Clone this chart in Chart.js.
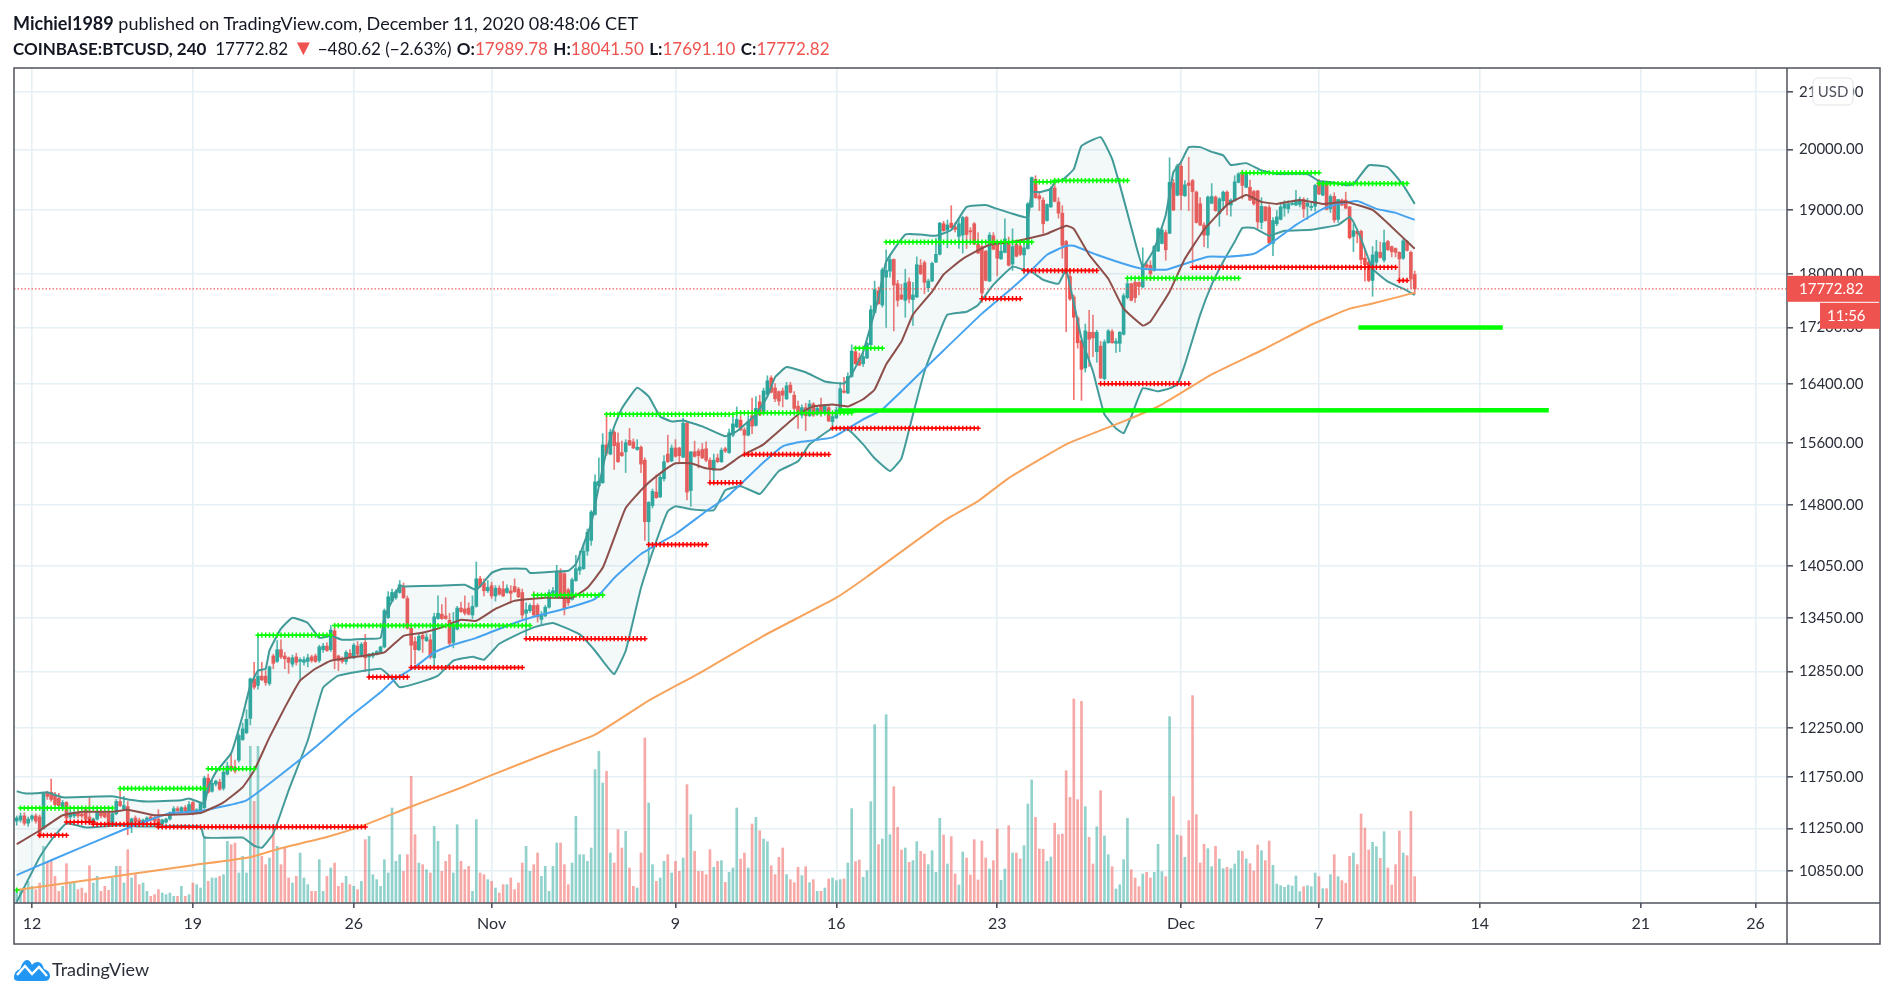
<!DOCTYPE html>
<html>
<head>
<meta charset="utf-8">
<title>COINBASE:BTCUSD, 240</title>
<script src="https://cdn.jsdelivr.net/npm/chart.js@4"></script>
<style>
    html, body { margin: 0; padding: 0; background: #fff; }
    body { width: 1898px; height: 1000px; position: relative; overflow: hidden; font-family: "Lato", sans-serif; color: #131722; }
    #priceChart { position: absolute; left: 0; top: 0; }
    .line { position: absolute; left: 13px; font-size: 17px; white-space: nowrap; }
    .line b { font-weight: 700; }
    .vals b { margin-left: 1px; }
    .vals i { font-style: normal; }
    .red { color: #ef5350; }
    .tri { font-size: 22px; line-height: 17px; letter-spacing: -1px; }
    #logo { position: absolute; left: 14px; top: 957px; }
    #brand { position: absolute; left: 52px; top: 958px; font-size: 18px; color: #2a2e39; }
</style>
</head>
<body>
<canvas id="priceChart" width="1898" height="1000"></canvas>
<div class="line" style="font-size:18px;top:12px"><b>Michiel1989</b> published on TradingView.com, December 11, 2020 08:48:06 CET</div>
<div class="line vals" style="top:38px"><b style="margin-left:0">COINBASE:BTCUSD, 240</b>&nbsp; <i>17772.82</i> <span class="red tri">&#9660;</span> <i>&minus;480.62 (&minus;2.63%)</i> <b>O:</b><span class="red">17989.78</span> <b>H:</b><span class="red">18041.50</span> <b>L:</b><span class="red">17691.10</span> <b>C:</b><span class="red">17772.82</span></div>
<svg id="logo" width="36" height="24" viewBox="0 0 36 24"><path d="M0 21 Q0 14 6 12 Q9 3 13 3 Q16 3 18 8 Q20 5 24 5 Q28 5 30 12 Q36 14 36 19 Q36 24 30 24 L5 24 Q0 24 0 21 Z" fill="#2196f3"/><path d="M3 18 L11 9 L18 17 L25 10 L33 19" fill="none" stroke="#fff" stroke-width="2.4"/></svg>
<div id="brand">TradingView</div>
<script>
// 4h candles [open, high, low, close], first one sits at bar -4 (bar 0 = Oct 12 00:00)
const firstBar = -4;
const candles = [
    [11320,11370,11280,11350],[11330,11400,11310,11370],[11370,11400,11280,11300],[11300,11360,11270,11340],
    // Oct 12
    [11340,11380,11320,11370],[11370,11390,11300,11320],[11360,11380,11160,11170],[11250,11600,11240,11590],[11590,11610,11530,11560],[11600,11730,11510,11530],
    [11570,11600,11470,11480],[11540,11590,11460,11470],[11440,11520,11430,11500],[11500,11510,11330,11350],[11360,11420,11340,11400],[11370,11420,11350,11400],
    [11400,11420,11350,11370],[11390,11410,11350,11370],[11430,11450,11320,11340],[11360,11550,11290,11300],[11300,11350,11280,11340],[11340,11430,11330,11410],
    [11410,11430,11350,11370],[11400,11420,11350,11360],[11400,11420,11270,11290],[11300,11410,11280,11390],[11390,11530,11380,11510],[11510,11620,11460,11470],
    [11440,11560,11430,11470],[11460,11510,11190,11300],[11290,11350,11210,11340],[11350,11370,11300,11310],[11330,11350,11280,11290],[11290,11340,11280,11330],
    [11320,11360,11310,11350],[11360,11380,11320,11330],[11350,11370,11290,11320],[11340,11430,11250,11260],[11290,11340,11280,11330],[11310,11350,11300,11340],
    [11340,11410,11330,11400],[11400,11460,11390,11440],[11440,11460,11410,11420],[11410,11460,11400,11450],[11450,11470,11410,11420],[11420,11510,11410,11480],
    // Oct 19
    [11500,11510,11380,11390],[11400,11440,11390,11430],[11420,11500,11400,11490],[11450,11760,11440,11740],[11740,11780,11590,11600],[11610,11720,11600,11690],
    [11680,11720,11660,11710],[11700,11730,11620,11630],[11640,11830,11620,11800],[11780,11900,11770,11860],[11860,11980,11810,11830],[11850,11920,11790,11810],
    [11920,12190,11900,12170],[12130,12300,12120,12240],[12200,12440,12190,12340],[12350,12780,12280,12770],[12770,12950,12660,12680],[12700,13240,12660,12800],
    [12800,12950,12750,12760],[12800,12860,12700,12730],[12720,12910,12700,12900],[13020,13040,12880,12940],[12960,13190,12950,13090],[13090,13200,12990,13010],
    [13020,13060,12880,12990],[13000,13010,12830,12950],[12930,13030,12900,13000],[13010,13050,12920,12950],[12960,13000,12760,12980],[12950,13010,12920,12980],
    [12960,13040,12900,13000],[13010,13030,12950,12970],[13020,13040,12950,12960],[12970,13140,12950,13120],[13090,13160,13060,13130],[13130,13170,13070,13080],
    // Oct 26
    [13090,13360,13070,13310],[13300,13340,12880,12990],[13020,13030,12860,12970],[12990,13010,12940,12960],[12960,13080,12930,13060],[13050,13090,13000,13010],
    [13000,13160,12990,13140],[13130,13180,13020,13040],[13020,13170,13010,13150],[13170,13260,12850,13000],[13010,13050,12770,13040],[13020,13060,13000,13050],
    [13040,13080,13030,13070],[13060,13130,13050,13120],[13120,13550,13110,13530],[13450,13750,13440,13690],[13640,13780,13630,13740],[13680,13770,13660,13750],
    [13740,13880,13730,13830],[13800,13850,13670,13680],[13670,13700,13320,13330],[13330,13350,12900,13140],[13180,13230,12930,13090],[13090,13270,13080,13240],
    [13250,13290,13060,13210],[13190,13270,13180,13230],[13200,13260,12990,13010],[13000,13500,12900,13460],[13440,13700,13430,13500],[13490,13600,13430,13440],
    [13470,13680,13430,13440],[13420,13500,13130,13160],[13170,13510,13110,13370],[13320,13580,13310,13560],[13560,13630,13510,13520],[13550,13700,13480,13500],
    // Nov 1
    [13560,13620,13480,13490],[13480,13700,13440,13580],[13580,14100,13570,13900],[13900,13930,13800,13810],[13850,13900,13700,13760],[13760,13880,13740,13800],
    [13820,13860,13670,13700],[13700,13820,13640,13790],[13790,13820,13710,13720],[13780,13870,13690,13700],[13740,13830,13730,13790],[13760,13820,13620,13730],
    [13810,13900,13740,13750],[13780,13800,13680,13690],[13740,13780,13440,13480],[13500,13620,13250,13540],[13530,13610,13510,13590],[13590,13750,13470,13480],
    [13590,13610,13400,13460],[13430,13520,13380,13480],[13470,13590,13460,13570],[13570,13770,13560,13740],[13730,13800,13720,13760],[13690,14060,13680,13990],
    [13990,14020,13670,13680],[13960,13990,13480,13560],[13770,13790,13590,13620],[13660,13910,13650,13890],[13880,14180,13870,14020],[14000,14230,13950,14040],
    [14020,14320,14010,14230],[14230,14500,14180,14460],[14360,14730,14300,14710],[14680,15180,14670,15090],[15040,15400,15030,15100],[15080,15720,15070,15570],
    // Nov 7
    [15570,16000,15430,15460],[15450,15780,15440,15740],[15740,15760,15250,15560],[15600,15730,15340,15350],[15470,15620,15420,15430],[15480,15640,15210,15600],
    [15630,15790,15560,15570],[15610,15650,15520,15530],[15510,15640,15500,15540],[15540,15560,15210,15320],[15370,15400,14360,14590],[14590,14840,14100,14830],
    [14790,15000,14760,14970],[14960,15180,14880,14890],[14900,15180,14890,15150],[15130,15430,15100,15350],[15450,15700,15340,15350],[15360,15570,15350,15530],
    [15530,15640,15410,15420],[15530,15540,15350,15430],[15410,15930,15400,15860],[15860,15880,14860,14960],[14980,15480,14780,15480],[15480,15620,15410,15420],
    [15490,15520,15270,15430],[15510,15590,15390,15400],[15520,15610,15350,15370],[15370,15400,15070,15260],[15240,15450,15120,15370],[15400,15450,15340,15350],
    [15350,15530,15340,15500],[15520,15540,15470,15490],[15470,15780,15460,15730],[15700,15940,15680,15850],[15810,16080,15800,15910],[15900,15960,15760,15770],
    [15770,15800,15480,15700],[15700,15960,15690,15880],[15960,16200,15720,15820],[15830,16220,15820,16060],[16150,16240,15960,15970],[15990,16340,15980,16300],
    [16250,16510,16240,16440],[16480,16510,16270,16280],[16340,16400,16150,16190],[16290,16300,16100,16160],[16300,16340,16080,16240],[16190,16420,16180,16370],
    [16380,16420,16270,16280],[16240,16290,16040,16060],[16090,16160,15790,16000],[15970,16110,15930,16070],[16070,16130,15760,15960],[15960,16170,15950,16120],
    [16120,16140,15950,15970],[15980,16100,15970,16060],[16100,16200,15950,16010],[16000,16110,15990,16090],[16070,16110,15880,15890],[15880,15980,15800,15950],
    // Nov 16
    [15930,16080,15920,16040],[16010,16420,16000,16330],[16300,16490,16270,16280],[16270,16550,16260,16500],[16500,16950,16490,16860],[16850,16920,16670,16680],
    [16760,16830,16650,16660],[16680,16850,16640,16780],[16760,16990,16750,16970],[16950,17520,16940,17460],[17420,17890,17410,17760],[17740,17800,17540,17550],
    [17530,18090,17500,18060],[17950,18370,17200,18050],[18040,18300,17950,18220],[18220,18230,17150,17830],[17850,17900,17510,17600],[17680,17840,17610,17620],
    [17600,18070,17350,17860],[17880,17940,17560,17620],[17610,17870,17230,17680],[17650,18260,17640,18140],[18130,18220,17990,18000],[18170,18200,17700,17870],
    [17790,17920,17730,17890],[17890,18180,17880,18160],[18180,18550,18170,18300],[18300,18800,18290,18790],[18780,18820,18660,18670],[18680,18840,18400,18760],
    [18790,19070,18710,18720],[18730,18800,18650,18690],[18580,18860,18390,18780],[18600,18900,18320,18880],[18880,18900,18390,18610],[18670,18720,18520,18650],
    [18780,18800,18450,18460],[18460,18640,18310,18320],[18420,18440,17570,17710],[18350,18360,17890,17900],[17890,18640,17880,18600],[18590,18640,18370,18380],
    [18490,18500,17970,18240],[18230,18440,18220,18350],[18330,18860,18320,18540],[18490,18570,18120,18130],[18150,18700,18050,18420],[18460,18480,18260,18270],
    [18430,18460,18280,18300],[18290,18460,18000,18400],[18390,19120,18380,19100],[19050,19540,19040,19530],[19500,19560,19190,19200],[19230,19300,18990,19180],
    [19160,19200,18630,18780],[18830,19100,18820,19090],[19050,19380,19040,19350],[19360,19450,19130,19140],[19130,19200,18870,18950],[18950,19070,18240,18440],
    [18500,18520,17140,18000],[17960,18080,17600,17620],[17650,17680,16180,17350],[17340,17360,16900,16980],[17010,17030,16170,16600],[16620,17250,16560,17150],
    [17130,17450,16640,17030],[17130,17380,16780,17050],[16850,17160,16700,17130],[16930,17000,16470,16480],[16470,17020,16450,16990],[16980,17170,16970,17150],
    [17140,17170,16970,16980],[16970,17040,16840,17000],[16970,17140,16850,17130],[17100,17700,17090,17670],[17640,17900,17620,17850],[17850,17860,17590,17600],
    [17870,17900,17570,17640],[17870,17880,17680,17810],[17800,18400,17790,18150],[18140,18180,18090,18100],[18130,18200,17900,18000],[18050,18440,18040,18420],
    [18350,18720,18340,18700],[18470,18730,18460,18680],[18640,18680,18210,18370],[18630,19860,18620,19450],[19440,19500,18990,19000],[19240,19750,19230,19720],
    // Dec 1
    [19720,19800,19000,19240],[19230,19480,19220,19410],[19440,19870,18990,19400],[19480,19500,18150,19300],[19290,19310,18790,18800],[19100,19200,18750,18760],
    [18760,18800,18420,18600],[18600,19230,18400,19210],[19110,19430,19100,19220],[19210,19230,18980,18990],[18940,19200,18740,19180],[19150,19310,19000,19290],
    [19290,19310,18920,19090],[19080,19180,18900,19160],[19150,19560,19140,19460],[19450,19610,19440,19590],[19600,19650,19180,19400],[19370,19620,19360,19600],
    [19370,19490,19150,19160],[19300,19320,19080,19100],[19310,19320,18700,18810],[18800,19200,18700,19060],[19050,19060,18820,18830],[19040,19080,18450,18480],
    [18470,18880,18280,18830],[18780,18990,18750,18890],[18850,19100,18840,19050],[19030,19150,18900,19100],[19020,19150,18950,19100],[19090,19130,19080,19110],
    // Dec 6
    [19080,19320,19070,19160],[19090,19210,19050,19170],[19170,19200,18880,19020],[19060,19190,18850,19110],[19040,19140,18990,19060],[19060,19420,18980,19400],
    [19470,19500,19250,19260],[19240,19480,19230,19420],[19420,19440,19000,19010],[19020,19250,18960,19220],[19220,19280,18800,18840],[18850,19170,18800,19170],
    [19160,19180,19070,19080],[19160,19290,19020,19030],[19050,19060,18540,18560],[18580,18780,18340,18670],[18660,18680,18480,18620],[18660,18680,18150,18220],
    [18240,18390,17890,18140],[18180,18210,17880,17900],[17900,18420,17660,18290],[18180,18520,18120,18340],[18330,18490,18240,18250],[18210,18680,18180,18480],
    [18500,18520,18360,18370],[18420,18430,18260,18340],[18390,18400,18260,18330],[18330,18340,17860,18230],[18240,18540,18220,18510],[18500,18520,18350,18360],
    [18330,18350,17780,17920],[17989.78,18041.5,17691.1,17772.82]
];

// volume per bar, same order as candles (arbitrary units)
const volumes = [
    35,40,45,65,
    50,40,60,170,125,125,80,35,50,118,60,60,40,45,30,112,60,80,35,50,38,75,110,110,60,160,
    75,85,55,60,35,20,25,40,30,25,30,20,20,50,20,25,60,55,45,200,65,75,75,80,85,185,175,180,90,140,
    90,470,305,470,
    140,115,135,235,170,115,165,75,60,80,150,75,55,35,35,130,35,80,105,120,50,60,80,55,50,40,65,190,200,85,
    70,50,130,90,285,125,145,95,145,380,205,120,115,100,90,230,185,95,125,145,90,235,125,100,110,35,250,90,85,70,
    65,45,30,55,55,75,40,60,120,170,95,115,150,80,110,35,110,180,180,115,55,120,260,145,145,125,165,400,455,360,
    395,150,120,220,165,215,105,50,45,150,495,300,115,65,75,125,145,90,125,95,135,355,265,155,95,95,85,160,
    107,125,127,62,92,105,285,132,150,105,237,257,217,192,184,112,85,137,165,85,70,61,107,82,109,61,70,35,35,45,
    72,75,67,70,72,120,283,124,129,77,97,304,535,175,192,565,205,349,227,159,165,122,127,184,155,147,115,157,92,254,
    204,117,199,87,54,153,135,84,190,69,186,135,102,127,222,68,102,232,150,150,132,172,297,369,257,162,161,125,138,239,
    205,207,397,317,612,310,605,289,197,117,229,337,201,145,109,42,55,130,254,100,75,49,87,92,75,92,176,94,79,559,
    319,204,201,137,247,622,265,120,176,163,109,170,132,103,107,103,117,157,155,132,118,96,174,157,127,186,113,57,52,47,
    54,51,81,34,49,52,49,90,79,43,43,85,145,79,67,59,140,150,115,267,225,159,182,169,134,214,105,54,115,216,150,142,275,79
];

// lines as [bar, price]
const bbUpper = [[-4,11610],[-2,11590],[1,11590],[4,11600],[8,11550],[21,11560],[25,11530],[30,11510],[39,11521],[41,11540],[45,11490],[46,11650],[48,11800],[52,11990],[55,12380],[57,12700],[59,12860],[61,12880],[62,13080],[65,13325],[68,13450],[72,13390],[75,13222],[78,13245],[81,13200],[87,13210],[91,13222],[92,13450],[96,13820],[97,13810],[106,13820],[113,13830],[116,13770],[120,13970],[123,14020],[129,14020],[130,13970],[136,13985],[140,13995],[142,14075],[144,14310],[146,14560],[148,15035],[150,15486],[152,15815],[154,16060],[158,16345],[161,16223],[164,15950],[167,15884],[170,15897],[175,15817],[181,15685],[184,15751],[189,15977],[192,16223],[194,16490],[197,16632],[202,16560],[207,16431],[212,16403],[214,16530],[217,16850],[221,17640],[223,18185],[228,18610],[232,18610],[236,18590],[240,18680],[244,19050],[249,19080],[252,19018],[256,18940],[260,18880],[261,19290],[263,19290],[266,19340],[267,19457],[269,19490],[272,19670],[274,20060],[279,20210],[282,19840],[285,19180],[288,18495],[290,18110],[293,18385],[296,18920],[298,19620],[300,19789],[302,20040],[305,20040],[308,19960],[311,19900],[313,19740],[317,19770],[321,19650],[325,19590],[333,19590],[336,19470],[339,19457],[343,19405],[345,19420],[349,19735],[354,19700],[358,19405],[361,19099]];
const bbLower = [[-4,10570],[-2,10705],[2,10979],[5,11138],[7,11226],[9,11300],[14,11260],[23,11280],[28,11268],[44,11268],[45,11163],[55,11163],[58,11086],[60,11067],[63,11200],[67,11619],[72,12120],[76,12675],[80,12805],[91,12880],[94,12775],[96,12680],[101,12730],[106,12805],[110,12968],[115,13012],[118,12979],[122,13155],[126,13245],[131,13340],[136,13390],[143,13260],[147,13078],[150,12913],[152,12820],[155,13078],[159,13795],[163,14352],[166,14720],[168,14783],[172,14745],[178,14733],[181,14985],[185,15035],[190,14935],[191,14985],[195,15230],[200,15356],[203,15578],[209,15790],[213,15777],[217,15578],[220,15395],[224,15230],[227,15395],[230,15977],[233,16570],[237,17140],[239,17388],[244,17430],[247,17530],[251,17835],[256,18109],[259,18062],[261,18030],[264,17910],[268,17850],[270,18062],[274,17040],[277,16570],[280,15977],[283,15790],[285,15725],[287,15950],[290,16335],[294,16294],[297,16335],[299,16390],[301,16670],[305,17388],[308,17835],[311,18185],[314,18495],[316,18715],[319,18715],[323,18590],[327,18670],[334,18685],[341,18762],[344,18890],[345,18810],[347,18540],[350,18078],[354,17880],[358,17775],[361,17680]];
const ma20 = [[-4,11100],[2,11230],[8,11376],[13,11410],[21,11410],[25,11430],[32,11376],[44,11398],[50,11502],[55,11650],[58,11816],[62,12152],[66,12463],[70,12751],[74,12880],[78,12968],[87,13025],[92,13060],[97,13245],[102,13280],[107,13340],[112,13425],[116,13414],[121,13550],[126,13643],[134,13680],[141,13680],[145,13795],[149,14030],[152,14390],[155,14760],[160,15035],[164,15200],[168,15330],[172,15330],[176,15265],[180,15252],[185,15422],[191,15578],[200,15977],[204,16087],[209,16113],[213,16087],[217,16185],[220,16320],[223,16670],[227,16996],[230,17388],[235,17730],[238,17990],[243,18230],[250,18450],[256,18495],[262,18575],[265,18622],[270,18750],[272,18700],[276,18293],[281,17925],[285,17477],[290,17227],[292,17286],[297,17730],[301,18230],[306,18685],[312,19083],[317,19245],[321,19131],[325,19099],[331,19163],[337,19099],[343,19131],[350,19002],[355,18730],[361,18385]];
const ma50 = [[-4,10813],[5,10951],[19,11163],[26,11268],[36,11396],[44,11418],[56,11521],[71,11957],[76,12120],[84,12400],[91,12625],[95,12775],[100,12900],[105,13060],[110,13145],[116,13222],[126,13390],[131,13460],[141,13575],[147,13665],[152,13910],[159,14195],[168,14438],[176,14720],[181,14883],[185,15061],[191,15343],[196,15552],[200,15605],[209,15670],[217,15911],[222,16046],[235,16711],[248,17403],[256,17790],[260,18000],[265,18293],[270,18433],[272,18433],[278,18293],[285,18155],[290,18078],[296,18062],[301,18155],[307,18263],[312,18263],[319,18309],[324,18495],[330,18762],[337,19018],[341,19099],[346,19147],[351,19018],[356,18954],[361,18842]];
const ma200 = [[-4,10677],[42,10905],[57,10979],[65,11063],[77,11168],[87,11284],[98,11446],[112,11645],[120,11770],[135,11998],[147,12180],[161,12537],[175,12850],[191,13245],[210,13680],[218,13925],[238,14597],[247,14846],[255,15138],[270,15578],[285,15884],[295,16113],[308,16530],[322,16896],[334,17240],[344,17476],[350,17552],[361,17715]];

// pivot levels as [first bar, last bar, price]
const greenLevels = [[-4,-4,10677],[-3,21,11446],[23,45,11638],[46,58,11834],[59,78,13252],[79,130,13360],[131,149,13710],[150,183,15980],[184,214,16000],[215,222,16900],[223,261,18490],[262,267,19460],[267,286,19480],[286,315,17934],[316,336,19610],[336,359,19430]];
const redLevels = [[2,9,11185],[9,16,11311],[16,33,11289],[33,87,11264],[88,98,12790],[99,128,12894],[129,160,13213],[161,176,14310],[177,185,15080],[186,208,15445],[209,247,15792],[248,258,17625],[259,278,18050],[279,302,16400],[303,356,18100],[357,359,17900]];
const lastPrice = 17772.82;

const upColor = '#26a69a', downColor = '#ef5350';
const volUp = 'rgba(38,166,154,0.5)', volDown = 'rgba(239,83,80,0.5)';

function xy(rows) {
    return rows.map(r => ({x: r[0], y: r[1]}));
}

// one point per bar along each level, null breaks the line between levels
function levelPoints(levels) {
    let pts = [];
    levels.forEach(l => {
        for (let b = l[0]; b <= l[1]; b++) pts.push({x: b, y: l[2]});
        pts.push({x: l[1] + 0.5, y: null});
    });
    return pts;
}

function lineSet(data, color, width, order) {
    return {type: 'line', data: xy(data), borderColor: color, borderWidth: width, pointRadius: 0, tension: 0.12, order: order};
}

const barX = candles.map((c, i) => i + firstBar);
const isUp = candles.map(c => c[3] >= c[0]);
const candleColors = isUp.map(u => u ? upColor : downColor);

const priceTicks = [21000, 20000, 19000, 18000, 17200, 16400, 15600, 14800, 14050, 13450, 12850, 12250, 11750, 11250, 10850];
const timeTicks = {0: '12', 42: '19', 84: '26', 120: 'Nov', 168: '9', 210: '16', 252: '23', 300: 'Dec', 336: '7', 378: '14', 420: '21', 450: '26'};

const gridColor = '#e6eff3';
const axisColor = '#50535e';

// frame, axis lines and the price tags on the right
const framePlugin = {
    id: 'frame',
    afterDraw(chart) {
        const c = chart.ctx, a = chart.chartArea, y = chart.scales.y;
        c.save();
        c.strokeStyle = axisColor;
        c.lineWidth = 1.5;
        c.strokeRect(14, a.top, 1880 - 14, 944 - a.top);
        c.beginPath();
        c.moveTo(a.right, a.top); c.lineTo(a.right, 944);
        c.moveTo(14, a.bottom); c.lineTo(1880, a.bottom);
        c.stroke();

        // last price tag
        const py = y.getPixelForValue(lastPrice);
        c.fillStyle = downColor;
        c.fillRect(a.right, py - 13, 1880 - a.right, 26);
        c.fillRect(1820, py + 14, 60, 26);
        c.fillStyle = '#fff';
        c.font = '15px Lato';
        c.textAlign = 'left';
        c.textBaseline = 'middle';
        c.fillText('17772.82', 1799, py);
        c.fillText('11:56', 1827, py + 27);

        // currency button
        c.fillStyle = '#fff';
        c.strokeStyle = '#dfe3e8';
        c.lineWidth = 1;
        c.beginPath();
        c.roundRect(1813, 78, 40, 27, 5);
        c.fill();
        c.stroke();
        c.fillStyle = axisColor;
        c.textAlign = 'center';
        c.fillText('USD', 1833, 92);
        c.restore();
    }
};

const ctx = document.getElementById('priceChart').getContext('2d');
const priceChart = new Chart(ctx, {
    data: {
        datasets: [
            {
                type: 'bar', yAxisID: 'yVol', order: 10, barThickness: 2, grouped: false,
                data: volumes.map((v, i) => ({x: barX[i], y: v})),
                backgroundColor: isUp.map(u => u ? volUp : volDown)
            },
            // bollinger bands, the upper one fills down to the lower one
            Object.assign(lineSet(bbUpper, '#3f9a98', 2, 4), {fill: {target: '+1'}, backgroundColor: 'rgba(150,190,200,0.11)'}),
            lineSet(bbLower, '#3f9a98', 2, 4),
            {
                type: 'bar', order: 6, barThickness: 1, grouped: false,
                data: candles.map((c, i) => ({x: barX[i], y: [c[2], c[1]]})),
                backgroundColor: isUp.map(u => u ? 'rgba(38,166,154,0.8)' : 'rgba(239,83,80,0.8)')
            },
            {
                type: 'bar', order: 5, barThickness: 3, grouped: false, minBarLength: 1,
                data: candles.map((c, i) => ({x: barX[i], y: [c[0], c[3]]})),
                backgroundColor: candleColors
            },
            lineSet(ma20, '#8d4f4a', 2, 3),
            lineSet(ma50, '#46a3f0', 2, 3),
            lineSet(ma200, '#f7a35c', 2, 3),
            {
                type: 'line', data: levelPoints(greenLevels), borderColor: '#00ff00', borderWidth: 1.5, order: 2,
                pointStyle: 'cross', pointRadius: 2.6, pointBorderWidth: 1.5, pointBorderColor: '#00ff00', spanGaps: false
            },
            {
                type: 'line', data: levelPoints(redLevels), borderColor: '#ff0000', borderWidth: 1.5, order: 2,
                pointStyle: 'cross', pointRadius: 2.6, pointBorderWidth: 1.5, pointBorderColor: '#ff0000', spanGaps: false
            },
            // the two hand drawn levels
            {type: 'line', data: [{x: 210.5, y: 16030}, {x: 396, y: 16035}], borderColor: '#00ff00', borderWidth: 4.5, pointRadius: 0, order: 1},
            {type: 'line', data: [{x: 346.3, y: 17200}, {x: 384, y: 17200}], borderColor: '#00ff00', borderWidth: 4.5, pointRadius: 0, order: 1},
            // last price line
            {type: 'line', data: [{x: -4.7, y: lastPrice}, {x: 458.2, y: lastPrice}], borderColor: 'rgba(239,83,80,0.9)', borderWidth: 1.2, borderDash: [1.5, 2], pointRadius: 0, order: 1}
        ]
    },
    options: {
        responsive: false,
        animation: false,
        devicePixelRatio: 1,
        layout: {padding: {left: 14, top: 68, right: 18, bottom: 56}},
        plugins: {legend: {display: false}, tooltip: {enabled: false}},
        scales: {
            x: {
                type: 'linear',
                offset: false,
                min: -4.7,
                max: 458.2,
                afterBuildTicks: s => { s.ticks = Object.keys(timeTicks).map(k => ({value: +k})); },
                afterFit: s => { s.height = 41; s.paddingLeft = 0; s.paddingRight = 0; },
                grid: {offset: false, color: gridColor, lineWidth: 1.6, tickColor: axisColor, tickLength: 5},
                border: {display: false},
                ticks: {
                    autoSkip: false, maxRotation: 0, color: '#2a2e39', padding: 6,
                    font: {family: 'Lato', size: 16},
                    callback: v => timeTicks[v]
                }
            },
            y: {
                type: 'logarithmic',
                position: 'right',
                min: 10561,
                max: 21430,
                afterBuildTicks: s => { s.ticks = priceTicks.map(v => ({value: v})); },
                afterFit: s => { s.width = 93; },
                grid: {color: gridColor, lineWidth: 1.6, tickColor: axisColor, tickLength: 6},
                border: {display: false},
                ticks: {
                    autoSkip: false, color: '#2a2e39', padding: 6,
                    font: {family: 'Lato', size: 15},
                    callback: v => v.toFixed(2)
                }
            },
            yVol: {type: 'linear', display: false, min: 0, max: 2505}
        }
    },
    plugins: [framePlugin]
});
</script>
</body>
</html>
